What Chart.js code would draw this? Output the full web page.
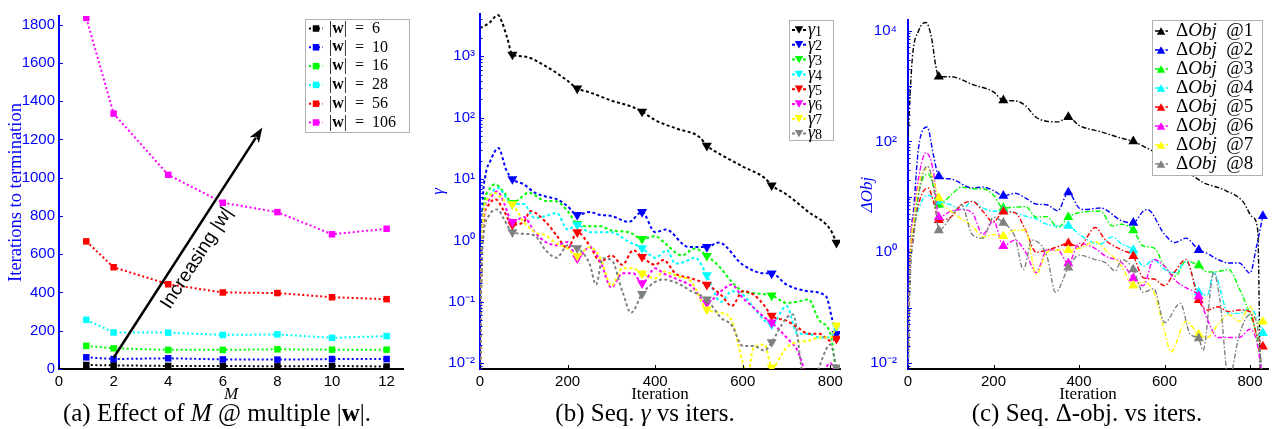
<!DOCTYPE html>
<html><head><meta charset="utf-8">
<script src="https://cdn.jsdelivr.net/npm/chart.js@4/dist/chart.umd.min.js"></script>
<style>
html,body{margin:0;padding:0;background:#fff;width:1280px;height:429px;overflow:hidden;position:relative}
.pane{position:absolute;top:0}
.cap{position:absolute;top:399px;line-height:28px;font-family:'Liberation Serif','Times New Roman',serif;font-size:25px;color:#000;white-space:nowrap;transform:translateX(-50%)}
</style></head><body>
<div class="pane" style="left:0;width:425px;height:405px"><canvas id="ca"></canvas></div>
<div class="pane" style="left:430px;width:420px;height:405px"><canvas id="cb"></canvas></div>
<div class="pane" style="left:850px;width:430px;height:405px"><canvas id="cc"></canvas></div>
<div class="cap" style="left:217px">(a) Effect of <i>M</i> @ multiple |<b>w</b>|.</div>
<div class="cap" style="left:645px">(b) Seq. <i>γ</i> vs iters.</div>
<div class="cap" style="left:1087px">(c) Seq. Δ-obj. vs iters.</div>
<script>
const SANS = "'Liberation Sans', Arial, Helvetica, sans-serif";
const SERIF = "'Liberation Serif', 'Times New Roman', serif";
const COLORS = ['#000000','#0000ff','#00ff00','#00ffff','#ff0000','#ff00ff','#ffff00','#808080'];

// ---------- Panel (a) ----------
const M_VALUES = [1, 2, 4, 6, 8, 10, 12];
const W_SIZES = ['6', '10', '16', '28', '56', '106'];
const ITERS_W6   = [21, 19, 16, 16, 14, 16, 13];
const ITERS_W10  = [61, 52, 56, 50, 49, 52, 52];
const ITERS_W16  = [121, 108, 100, 100, 103, 101, 101];
const ITERS_W28  = [257, 191, 190, 178, 181, 163, 172];
const ITERS_W56  = [667, 532, 443, 400, 397, 375, 365];
const ITERS_W106 = [1835, 1335, 1015, 869, 820, 704, 733];
const A_SERIES = [ITERS_W6, ITERS_W10, ITERS_W16, ITERS_W28, ITERS_W56, ITERS_W106];
const A_X_TICKS = [0, 2, 4, 6, 8, 10, 12];
const A_Y_TICKS = [0, 200, 400, 600, 800, 1000, 1200, 1400, 1600, 1800];
const ARROW_FROM = [2, 59];
const ARROW_TO = [7.45, 1262];
const ARROW_LABEL = 'Increasing |w|';

// ---------- Panel (b) ----------
const B_MARKER_ITERS = [74, 222, 370, 518, 666, 814];
const GAMMA_NAMES = ['1','2','3','4','5','6','7','8'];
const GAMMA_1 = [[0,2880],[20,3450],[41,4700],[50,3650],[62,2000],[74,1070],[100,1000],[150,690],[200,400],[222,300],[250,260],[300,190],[350,148],[370,126],[400,91],[450,66],[500,49],[518,35],[550,25],[600,16],[650,10.4],[666,7.9],[700,5.6],[750,2.9],[800,1.5],[814,0.92]];
const GAMMA_2 = [[0,0.005],[3,0.5],[6,4],[12,11],[24,20],[42,32],[60,14],[74,10],[100,8.2],[125,6],[150,5.2],[175,4.7],[200,3.6],[222,2.6],[250,2.9],[275,2.6],[300,2.5],[340,2.0],[370,2.9],[400,1.36],[424,1.5],[476,0.78],[518,0.78],[545,0.92],[600,0.40],[650,0.29],[666,0.29],[700,0.19],[750,0.148],[790,0.123],[805,0.049],[814,0.03]];
const GAMMA_3 = [[0,0.005],[3,0.4],[8,3],[20,6.5],[35,8.2],[55,6],[74,4.1],[100,5.4],[110,6],[150,4.4],[175,4.3],[200,3.0],[222,1.85],[250,1.7],[275,1.7],[300,1.45],[340,1.36],[370,1.06],[400,1.17],[419,0.94],[461,0.57],[491,0.74],[518,0.56],[550,0.35],[575,0.21],[600,0.148],[625,0.138],[666,0.127],[700,0.096],[725,0.10],[750,0.109],[775,0.049],[800,0.03],[814,0.006]];
const GAMMA_4 = [[0,0.005],[3,0.3],[8,2.5],[20,5],[40,7.2],[74,3.9],[100,3.9],[125,2.3],[150,2.5],[175,2.8],[200,1.5],[222,1.8],[250,1.36],[300,1.36],[340,0.94],[370,0.75],[400,0.52],[427,0.69],[446,0.42],[465,0.44],[491,0.52],[518,0.27],[550,0.10],[575,0.148],[600,0.13],[625,0.08],[650,0.049],[666,0.043],[700,0.085],[725,0.03],[750,0.03],[775,0.026],[800,0.026],[814,0.04]];
const GAMMA_5 = [[0,0.005],[3,0.3],[8,2],[20,3.8],[35,4.7],[55,3],[74,1.8],[100,2.0],[115,3.0],[150,2.0],[175,1.2],[200,0.74],[222,1.36],[250,0.83],[275,0.45],[300,0.57],[325,0.40],[350,0.69],[370,0.54],[400,0.40],[419,0.48],[446,0.29],[483,0.24],[518,0.19],[550,0.13],[575,0.085],[600,0.148],[625,0.13],[650,0.085],[666,0.059],[700,0.049],[725,0.038],[750,0.03],[775,0.03],[800,0.023],[814,0.025]];
const GAMMA_6 = [[0,0.005],[3,0.3],[8,2.5],[20,4.5],[40,6.3],[55,4],[74,2.0],[100,2.4],[125,1.36],[150,0.94],[175,0.83],[200,0.94],[222,0.51],[250,0.78],[275,0.45],[300,0.17],[325,0.29],[350,0.29],[370,0.2],[400,0.35],[419,0.29],[451,0.23],[483,0.18],[518,0.096],[550,0.148],[575,0.19],[600,0.115],[625,0.08],[650,0.055],[666,0.046],[700,0.026],[725,0.016],[750,0.006],[775,0.006],[800,0.01],[814,0.006]];
const GAMMA_7 = [[0,0.005],[3,0.3],[8,2.5],[20,5],[32,6],[55,4.5],[74,3.9],[100,2.0],[125,1.36],[150,1.2],[175,0.89],[200,0.74],[222,0.56],[250,0.78],[275,0.51],[300,0.18],[325,0.35],[350,0.35],[370,0.29],[400,0.24],[419,0.31],[451,0.26],[483,0.21],[518,0.075],[550,0.066],[575,0.049],[600,0.01],[610,0.006],[625,0.018],[650,0.02],[666,0.0085],[700,0.018],[725,0.022],[750,0.023],[775,0.026],[800,0.026],[814,0.041]];
const GAMMA_8 = [[0,0.005],[3,0.2],[8,1.2],[20,2.5],[40,3.2],[55,2.2],[74,1.36],[100,1.28],[125,1.2],[150,0.69],[175,0.52],[200,0.83],[222,0.75],[250,0.42],[265,0.19],[280,0.51],[300,0.48],[325,0.148],[345,0.066],[370,0.134],[400,0.21],[419,0.23],[451,0.2],[483,0.148],[518,0.109],[550,0.055],[575,0.041],[600,0.019],[625,0.019],[650,0.016],[666,0.022],[700,0.055],[715,0.062],[740,0.006],[760,0.006],[800,0.02],[814,0.0085]];
const B_SERIES = [GAMMA_1, GAMMA_2, GAMMA_3, GAMMA_4, GAMMA_5, GAMMA_6, GAMMA_7, GAMMA_8];
const B_X_TICKS = [0, 200, 400, 600, 800];
const B_Y_TICKS = [0.01, 0.1, 1, 10, 100, 1000];

// ---------- Panel (c) ----------
const C_MARKER_ITERS = [72, 223, 375, 527, 680, 830];
const OBJ_NAMES = ['1','2','3','4','5','6','7','8'];
const DOBJ_1 = [[0,120],[10,3100],[25,10000],[42,14000],[55,7400],[65,2300],[72,1470],[100,1470],[150,1070],[200,780],[223,550],[250,540],[275,440],[300,270],[350,225],[375,275],[400,195],[450,150],[500,114],[527,100],[550,82],[600,52],[650,30],[688,18.6],[743,13],[783,8.3],[806,4.3],[818,2.5],[825,0.005],[830,0.005]];
const DOBJ_2 = [[0,0.005],[4,0.5],[14,7],[25,80],[45,182],[60,54],[72,23.5],[100,21],[150,14.5],[175,15],[200,13],[223,10.4],[250,11.6],[275,9.5],[300,7.4],[325,7.2],[350,5.6],[375,12],[400,6.3],[415,5.9],[450,6.3],[500,3.7],[527,3.4],[550,5.5],[560,5.9],[600,2.1],[625,1.5],[650,1.8],[680,1.1],[700,0.95],[725,0.74],[750,0.64],[775,0.64],[800,0.42],[815,1.26],[830,4.5]];
const DOBJ_3 = [[0,0.005],[4,0.3],[14,3],[28,15],[47,26],[60,15],[72,7.2],[100,10.7],[125,15],[150,14],[175,14],[200,10.7],[223,6.3],[250,6.5],[275,6.7],[300,4.3],[325,4.4],[350,2.8],[375,4.3],[400,5.2],[450,5.5],[478,3.0],[500,3.2],[527,2.5],[550,1.3],[575,1.2],[600,0.56],[625,0.37],[650,0.69],[680,0.58],[700,0.44],[725,0.45],[750,0.49],[775,0.22],[800,0.075],[815,0.033],[830,0.005]];
const DOBJ_4 = [[0,0.005],[4,0.3],[14,2.5],[28,7],[47,10.7],[72,8.3],[100,7.2],[125,5.9],[150,8.3],[175,6.3],[200,5.5],[223,5.6],[250,5.2],[275,4.5],[300,4.0],[325,3.2],[350,3.0],[375,3.0],[400,2.1],[450,1.4],[478,1.9],[500,1.4],[527,1.1],[550,0.56],[575,0.74],[600,0.49],[625,0.43],[650,0.69],[680,0.19],[700,0.17],[715,0.43],[750,0.079],[775,0.079],[800,0.098],[815,0.07],[830,0.035]];
const DOBJ_5 = [[0,0.005],[4,0.3],[14,2.5],[28,9],[47,14.5],[60,8],[72,3.8],[100,4.3],[125,7.2],[150,8.3],[175,5.5],[200,3.5],[223,5.4],[250,5.2],[275,2.5],[300,1.0],[325,1.1],[350,1.26],[375,1.45],[400,1.26],[438,2.8],[462,1.66],[500,1.1],[527,0.85],[550,0.35],[575,0.33],[600,0.25],[625,0.46],[650,0.74],[680,0.138],[700,0.091],[725,0.104],[750,0.085],[775,0.091],[800,0.085],[815,0.033],[830,0.02]];
const DOBJ_6 = [[0,0.005],[4,0.5],[14,5],[28,30],[42,63],[60,27],[72,4.3],[100,5.5],[125,5.9],[150,5.2],[175,2.1],[200,3.7],[223,1.3],[250,1.66],[275,1.0],[300,0.43],[325,1.1],[350,1.1],[375,0.63],[400,1.45],[438,1.17],[462,0.85],[500,0.65],[527,0.34],[550,0.25],[575,0.74],[600,0.56],[625,0.31],[650,0.23],[680,0.16],[700,0.062],[725,0.029],[750,0.029],[775,0.029],[800,0.041],[815,0.026],[830,0.005]];
const DOBJ_7 = [[0,0.005],[4,0.4],[14,4],[28,20],[44,32],[60,20],[72,9.5],[100,5.5],[125,4.0],[150,3.0],[175,1.9],[200,2.1],[223,1.95],[250,2.5],[275,2.5],[300,0.4],[325,1.0],[350,1.1],[375,1.1],[400,1.17],[438,1.55],[462,1.1],[500,0.56],[527,0.25],[550,0.29],[575,0.19],[600,0.038],[615,0.016],[650,0.057],[680,0.033],[700,0.029],[725,0.05],[750,0.075],[775,0.057],[800,0.105],[815,0.057],[830,0.056]];
const DOBJ_8 = [[0,0.005],[4,0.2],[14,2],[28,15],[45,36],[60,15],[72,2.5],[100,4.3],[125,7.2],[150,2.1],[175,1.8],[200,4.3],[223,3.4],[250,1.9],[270,0.49],[290,1.66],[300,1.6],[325,0.85],[345,0.19],[375,0.53],[400,0.89],[438,0.74],[462,0.65],[485,0.46],[500,0.74],[527,0.49],[550,0.19],[575,0.22],[600,0.054],[637,0.12],[660,0.033],[680,0.028],[690,0.017],[715,0.43],[730,0.13],[750,0.005],[775,0.033],[800,0.075],[815,0.057],[830,0.005]];
const C_SERIES = [DOBJ_1, DOBJ_2, DOBJ_3, DOBJ_4, DOBJ_5, DOBJ_6, DOBJ_7, DOBJ_8];
const C_X_TICKS = [0, 200, 400, 600, 800];
const C_Y_TICKS = [0.01, 1, 100, 10000];

// ---------- helpers ----------
const SUP = {'-':'\u207B','0':'\u2070','1':'\u00B9','2':'\u00B2','3':'\u00B3','4':'\u2074'};
function powLabel(v){ const e = Math.round(Math.log10(v)); return '10' + String(e).split('').map(c => SUP[c]).join(''); }
function setTicks(list){ return s => { s.ticks = list.map(v => ({value: v})); }; }

function drawMarker(ctx, kind, x, y, s, color){
  ctx.fillStyle = color; ctx.strokeStyle = color; ctx.lineWidth = 1;
  ctx.beginPath();
  if (kind === 'rect') { ctx.rect(x - s/2, y - s/2, s, s); }
  else if (kind === 'down') { const h = s*0.87; ctx.moveTo(x - s/2, y - h/2); ctx.lineTo(x + s/2, y - h/2); ctx.lineTo(x, y + h/2); ctx.closePath(); }
  else { const h = s*0.87; ctx.moveTo(x - s/2, y + h/2); ctx.lineTo(x + s/2, y + h/2); ctx.lineTo(x, y - h/2); ctx.closePath(); }
  ctx.fill();
}

const matTicks = {
  id: 'matTicks',
  afterDraw(chart, args, o) {
    const ctx = chart.ctx, ca = chart.chartArea;
    ctx.save(); ctx.setLineDash([]); ctx.lineWidth = 1;
    const sx = chart.scales.x, sy = chart.scales.y;
    ctx.strokeStyle = o.xColor;
    sx.ticks.forEach(t => { const p = Math.round(sx.getPixelForValue(t.value)) + 0.5; ctx.beginPath(); ctx.moveTo(p, ca.bottom); ctx.lineTo(p, ca.bottom - 4); ctx.stroke(); });
    ctx.strokeStyle = o.yColor;
    sy.ticks.forEach(t => { const p = Math.round(sy.getPixelForValue(t.value)) + 0.5; ctx.beginPath(); ctx.moveTo(ca.left, p); ctx.lineTo(ca.left + 4, p); ctx.stroke(); });
    if (sy.type === 'logarithmic') {
      for (let e = Math.floor(Math.log10(sy.min)); e <= Math.ceil(Math.log10(sy.max)); e++) {
        for (let k = 2; k <= 9; k++) {
          const v = k * Math.pow(10, e);
          if (v < sy.min || v > sy.max) continue;
          const p = Math.round(sy.getPixelForValue(v)) + 0.5;
          ctx.beginPath(); ctx.moveTo(ca.left, p); ctx.lineTo(ca.left + 2.5, p); ctx.stroke();
        }
        const v10 = Math.pow(10, e);
        if (v10 >= sy.min && v10 <= sy.max) { const p = Math.round(sy.getPixelForValue(v10)) + 0.5; ctx.beginPath(); ctx.moveTo(ca.left, p); ctx.lineTo(ca.left + 4, p); ctx.stroke(); }
      }
    }
    ctx.restore();
  }
};

const matLegend = {
  id: 'matLegend',
  afterDatasetsDraw(chart, args, o) {
    if (!o || !o.entries) return;
    const ctx = chart.ctx;
    ctx.save();
    ctx.fillStyle = '#fff'; ctx.strokeStyle = '#b0b0b0'; ctx.lineWidth = 1;
    ctx.fillRect(o.box[0], o.box[1], o.box[2], o.box[3]);
    ctx.strokeRect(o.box[0] + 0.5, o.box[1] + 0.5, o.box[2], o.box[3]);
    chart.data.datasets.forEach((ds, i) => {
      const y = o.firstRow + i * o.rowStep;
      ctx.strokeStyle = ds.borderColor; ctx.lineWidth = ds.borderWidth; ctx.setLineDash(ds.borderDash || []);
      ctx.beginPath(); ctx.moveTo(o.lineFrom, y); ctx.lineTo(o.lineTo, y); ctx.stroke();
      ctx.setLineDash([]);
      drawMarker(ctx, o.marker, o.markerX, y, o.markerSize, ds.borderColor);
      let x = o.textX;
      ctx.textBaseline = 'middle'; ctx.textAlign = 'left';
      o.entries[i].forEach(seg => {
        ctx.font = seg.font; ctx.fillStyle = '#000';
        ctx.fillText(seg.text, x, y + (seg.dy || 0));
        x += ctx.measureText(seg.text).width;
      });
    });
    ctx.restore();
  }
};

const arrowPlugin = {
  id: 'arrowNote',
  afterDatasetsDraw(chart, args, o) {
    if (!o || !o.from) return;
    const ctx = chart.ctx, sx = chart.scales.x, sy = chart.scales.y;
    const x1 = sx.getPixelForValue(o.from[0]), y1 = sy.getPixelForValue(o.from[1]);
    const x2 = sx.getPixelForValue(o.to[0]), y2 = sy.getPixelForValue(o.to[1]);
    const ang = Math.atan2(y2 - y1, x2 - x1);
    const len = Math.hypot(x2 - x1, y2 - y1);
    ctx.save();
    ctx.translate(x1, y1); ctx.rotate(ang);
    ctx.strokeStyle = '#000'; ctx.fillStyle = '#000'; ctx.lineWidth = 2.5;
    ctx.beginPath(); ctx.moveTo(0, 0); ctx.lineTo(len - 12, 0); ctx.stroke();
    ctx.beginPath(); ctx.moveTo(len, 0); ctx.lineTo(len - 15, -5.5); ctx.lineTo(len - 11, 0); ctx.lineTo(len - 15, 5.5); ctx.closePath(); ctx.fill();
    ctx.font = o.font; ctx.textAlign = 'center'; ctx.textBaseline = 'middle';
    ctx.fillText(o.text, len * 0.47, 16);
    ctx.restore();
  }
};

Chart.defaults.animation = false;
Chart.defaults.events = [];

function axisX(min, max, ticks, title, titleFont) {
  return {
    type: 'linear', min: min, max: max,
    afterBuildTicks: setTicks(ticks),
    ticks: { color: '#000', font: { family: SANS, size: 15 }, padding: 4, autoSkip: false, maxRotation: 0, callback: v => String(v) },
    grid: { display: false, drawTicks: false },
    border: { display: true, color: '#000', width: 2 },
    title: { display: true, text: title, color: '#000', font: titleFont, padding: { top: 0, bottom: 0 } },
    afterFit: s => { s.height = 36; }
  };
}

// ---------- Chart (a) ----------
new Chart(document.getElementById('ca'), {
  type: 'line',
  data: {
    datasets: A_SERIES.map((vals, i) => ({
      label: '|w| = ' + W_SIZES[i],
      data: M_VALUES.map((m, j) => ({ x: m, y: vals[j] })),
      borderColor: COLORS[i], backgroundColor: COLORS[i],
      borderWidth: 2, borderDash: [2, 2.5], tension: 0,
      pointStyle: 'rect', pointRadius: 4.6, pointBorderWidth: 0, pointBackgroundColor: COLORS[i],
      order: 10 - i
    }))
  },
  options: {
    responsive: true, maintainAspectRatio: false, devicePixelRatio: 1,
    layout: { padding: { left: 0, top: 16, right: 22, bottom: 0 } },
    plugins: {
      legend: { display: false }, tooltip: { enabled: false },
      matTicks: { xColor: '#000', yColor: '#0000ff' },
      matLegend: {
        box: [305, 19, 104, 113], firstRow: 28.5, rowStep: 18.8,
        lineFrom: 309, lineTo: 323, markerX: 316, markerSize: 6.5, marker: 'rect', textX: 329,
        entries: W_SIZES.map(w => [
          { text: '|', font: '16px ' + SERIF }, { text: 'w', font: 'bold 16px ' + SERIF },
          { text: '|', font: '16px ' + SERIF }, { text: '  =  ' + w, font: '16px ' + SERIF }
        ])
      },
      arrowNote: { from: ARROW_FROM, to: ARROW_TO, text: ARROW_LABEL, font: '19px ' + SANS }
    },
    scales: {
      x: axisX(0, 12.6, A_X_TICKS, 'M', { family: SERIF, size: 17, style: 'italic' }),
      y: {
        type: 'linear', min: 0, max: 1845,
        afterBuildTicks: setTicks(A_Y_TICKS),
        ticks: { color: '#0000ff', font: { family: SANS, size: 15 }, padding: 4, autoSkip: false, callback: v => String(v) },
        grid: { display: false, drawTicks: false },
        border: { display: true, color: '#0000ff', width: 2 },
        title: { display: true, text: 'Iterations to termination', color: '#0000ff', font: { family: SERIF, size: 18.5 }, padding: { top: 5, bottom: 0 } },
        afterFit: s => { s.width = 59; }
      }
    }
  },
  plugins: [matTicks, matLegend, arrowPlugin]
});

// ---------- log-panel builder ----------
function logPanel(id, series, markers, opts) {
  return new Chart(document.getElementById(id), {
    type: 'line',
    data: {
      datasets: series.map((pts, i) => ({
        label: opts.labels[i],
        data: pts.map(p => ({ x: p[0], y: p[1] })),
        borderColor: COLORS[i], backgroundColor: COLORS[i],
        borderWidth: opts.lineWidth, borderDash: opts.dash,
        cubicInterpolationMode: 'monotone',
        pointStyle: 'triangle', pointRotation: opts.rot,
        pointRadius: c => (c.raw && markers.includes(c.raw.x)) ? 5.8 : 0,
        pointBorderWidth: 0, pointBackgroundColor: COLORS[i],
        order: 10 - i
      }))
    },
    options: {
      responsive: true, maintainAspectRatio: false, devicePixelRatio: 1,
      layout: { padding: { left: 0, top: 10, right: opts.padRight, bottom: 0 } },
      plugins: {
        legend: { display: false }, tooltip: { enabled: false },
        matTicks: { xColor: '#000', yColor: '#0000ff' },
        matLegend: opts.legend
      },
      scales: {
        x: axisX(0, opts.xMax, opts.xTicks, 'Iteration', { family: SERIF, size: 17 }),
        y: {
          type: 'logarithmic', min: opts.yMin, max: opts.yMax,
          afterBuildTicks: setTicks(opts.yTicks),
          ticks: { color: '#0000ff', font: { family: SANS, size: 15 }, padding: opts.yPad, autoSkip: false, callback: v => powLabel(v) },
          grid: { display: false, drawTicks: false },
          border: { display: true, color: '#0000ff', width: 2 },
          title: { display: true, text: opts.yTitle, color: '#0000ff', font: { family: SERIF, size: 17, style: 'italic' }, padding: { top: opts.titlePad, bottom: 0 } },
          afterFit: s => { s.width = opts.yWidth; }
        }
      }
    },
    plugins: [matTicks, matLegend]
  });
}

logPanel('cb', B_SERIES, B_MARKER_ITERS, {
  labels: GAMMA_NAMES.map(n => 'γ' + n), lineWidth: 2, dash: [3, 2.5], rot: 180,
  padRight: 10, xMax: 822, xTicks: B_X_TICKS, yMin: 0.008, yMax: 4900, yTicks: B_Y_TICKS,
  yPad: 5, yWidth: 50, yTitle: 'γ', titlePad: -2,
  legend: {
    box: [359, 20, 44, 120], firstRow: 30, rowStep: 14.8,
    lineFrom: 362, lineTo: 376, markerX: 369, markerSize: 8.5, marker: 'down', textX: 378,
    entries: GAMMA_NAMES.map(n => [{ text: 'γ', font: 'italic 18px ' + SERIF }, { text: n, font: '14px ' + SERIF, dy: 2 }])
  }
});

logPanel('cc', C_SERIES, C_MARKER_ITERS, {
  labels: OBJ_NAMES.map(n => 'ΔObj @' + n), lineWidth: 1.4, dash: [5, 2, 1.5, 2], rot: 0,
  padRight: 12, xMax: 842, xTicks: C_X_TICKS, yMin: 0.00785, yMax: 15500, yTicks: C_Y_TICKS,
  yPad: 11, yWidth: 58, yTitle: 'ΔObj', titlePad: 7,
  legend: {
    box: [302, 20, 110, 155], firstRow: 31, rowStep: 19,
    lineFrom: 305, lineTo: 318, markerX: 311, markerSize: 8.5, marker: 'up', textX: 326,
    entries: OBJ_NAMES.map(n => [{ text: 'Δ', font: '19px ' + SERIF }, { text: 'Obj', font: 'italic 19px ' + SERIF }, { text: '  @' + n, font: '19px ' + SERIF }])
  }
});
</script>
</body></html>
